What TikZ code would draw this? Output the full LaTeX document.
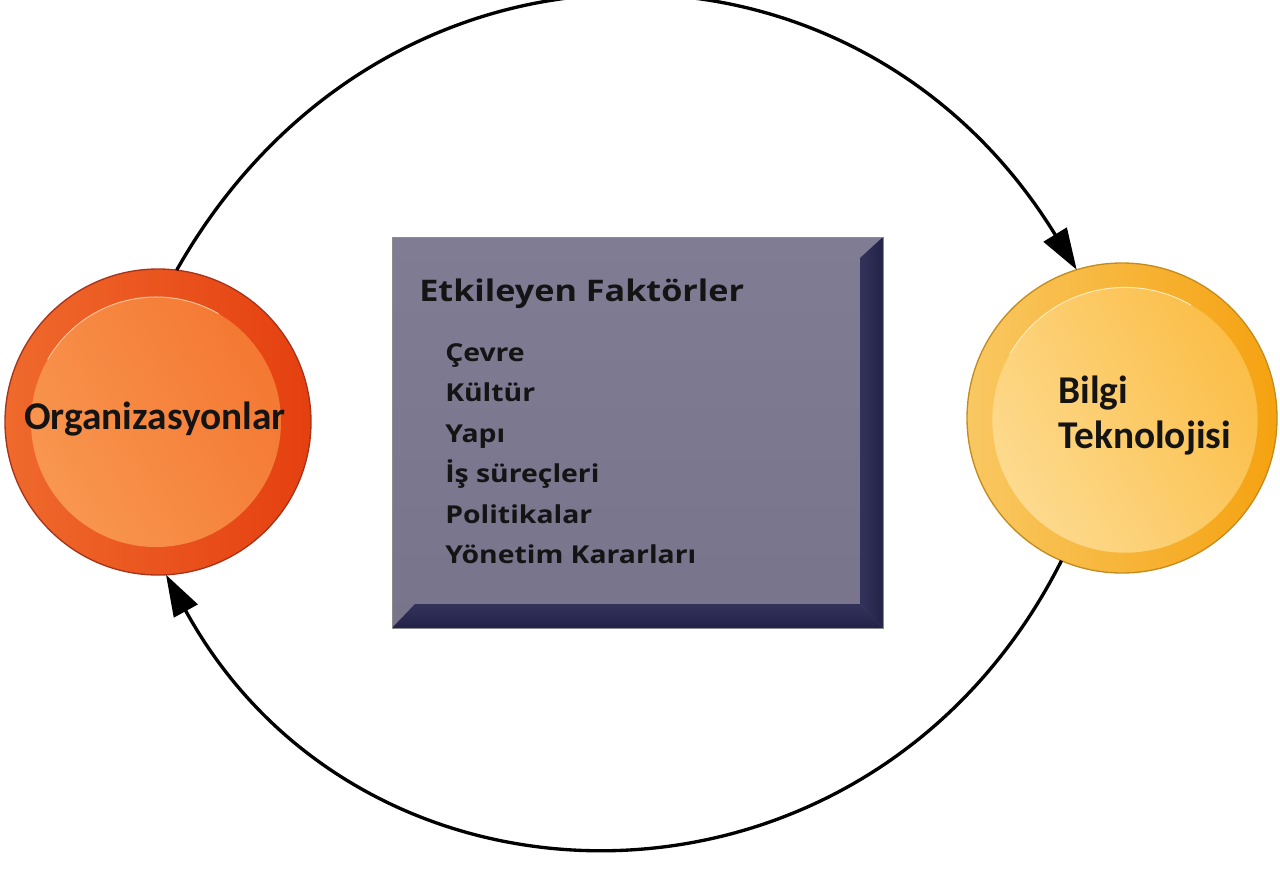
\documentclass[tikz,border=0pt]{standalone}
\usepackage{fontspec}
\setmainfont{Carlito}
\newfontfamily\boxfont[FakeStretch=1.15]{Open Sans}
\usetikzlibrary{arrows.meta}

\definecolor{orgA}{HTML}{EF6A2C}
\definecolor{orgB}{HTML}{E53F10}
\definecolor{orgC}{HTML}{F8964F}
\definecolor{orgD}{HTML}{F47832}
\definecolor{orgE}{HTML}{A8321A}
\definecolor{btA}{HTML}{F9C862}
\definecolor{btB}{HTML}{F5A210}
\definecolor{btC}{HTML}{FDDA8E}
\definecolor{btD}{HTML}{FBBE48}
\definecolor{btE}{HTML}{C48C1E}
\definecolor{faceA}{HTML}{7F7C94}
\definecolor{faceB}{HTML}{77748C}
\definecolor{bevelA}{HTML}{33325A}
\definecolor{bevelB}{HTML}{23234A}

\tikzset{
  cyc/.style={line width=2.5pt, -{Triangle[length=31pt,width=20pt]}},
  disc/.style={circle, inner sep=0pt, outer sep=0pt},
  lbl/.style={inner sep=0.75pt, text=black!92, font=\bfseries\fontsize{29.5}{34}\selectfont},
  itemtxt/.style={anchor=base west, inner sep=0.75pt, text=black!92, font=\boxfont\bfseries\fontsize{18.5}{22}\selectfont}
}

\begin{document}
\begin{tikzpicture}[x=0.75pt,y=0.75pt,yscale=-1,xscale=1]
\useasboundingbox (0,0) rectangle (1280,879);

%Shape: Rectangle [box face]
\shade[top color=faceA, bottom color=faceB] (392,237) rectangle (883,628);
%Shape: Bevel right
\shade[left color=bevelA, right color=bevelB] (860,258) -- (883,237) -- (883,628) -- (860,604) -- cycle;
%Shape: Bevel bottom
\shade[top color=bevelA, bottom color=bevelB] (392,628) -- (415,604) -- (860,604) -- (883,628) -- cycle;
\draw[black!45, line width=0.75pt] (392,237) rectangle (883,628);

%Shape: Circle [Organizasyonlar]
\node[disc, minimum size=229.5pt, draw=orgE, line width=1pt, left color=orgA, right color=orgB] (org) at (158,422) {};
\node[disc, minimum size=187.5pt, left color=orgC, right color=orgD, shading angle=120] (orgin) at (156,422) {};
\draw[orgC!60!white, line width=0.75pt] (orgin.150) arc[start angle=-150, end angle=-60, radius=125];

%Shape: Circle [Bilgi Teknolojisi]
\node[disc, minimum size=232.5pt, draw=btE, line width=1pt, left color=btA, right color=btB] (bt) at (1122,418) {};
\node[disc, minimum size=199pt, left color=btC, right color=btD, shading angle=120] (btin) at (1125,420) {};
\draw[btC!60!white, line width=0.75pt] (btin.150) arc[start angle=-150, end angle=-60, radius=132.5];

% Text Node
\node[lbl, anchor=base] (orglbl) at (155,429) {Organizasyonlar};
% Text Node
\node[lbl, anchor=base west] (btlbl1) at (1057,403) {Bilgi};
\node[lbl, anchor=base west] (btlbl2) at (1057,448) {Teknolojisi};

% Text Node
\node[anchor=base west, inner sep=0.75pt, text=black!92, font=\boxfont\bfseries\fontsize{22.3}{28}\selectfont] (title) at (418,301) {Etkileyen Faktörler};
% Text Node
\node[itemtxt] (cevre) at (444,361) {Çevre};
\node[itemtxt] (kultur) at (444,401.5) {Kültür};
\node[itemtxt] (yapi) at (444,442) {Yapı};
\node[itemtxt] (surec) at (444,482.5) {İş süreçleri};
\node[itemtxt] (politika) at (444,523) {Politikalar};
\node[itemtxt] (karar) at (444,563.5) {Yönetim Kararları};

% Connectors
\draw[cyc] (org.83) .. controls +(205,-362) and +(-222,-362) .. (bt.107);
\draw[cyc] (bt.-113) .. controls +(-190,377) and +(200,365) .. (org.-87);
\end{tikzpicture}
\end{document}
